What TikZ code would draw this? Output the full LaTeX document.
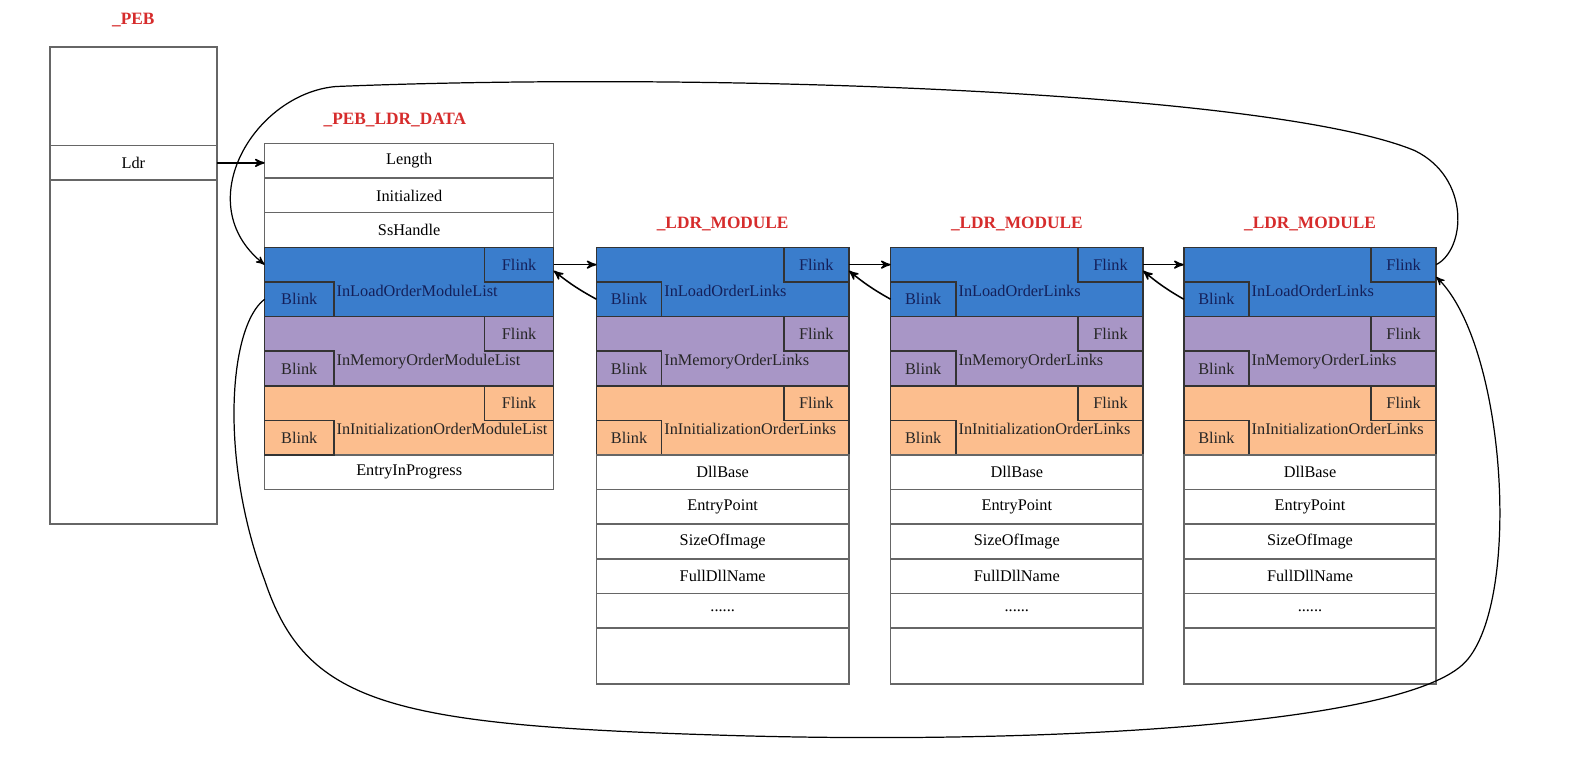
\documentclass[tikz,border=0pt]{standalone}
\usepackage{fontspec}
\setmainfont{Liberation Serif}
\usepackage{tikz}
\usetikzlibrary{arrows,positioning}
\definecolor{loadblue}{RGB}{58,125,204}
\definecolor{memviolet}{RGB}{168,150,198}
\definecolor{initorange}{RGB}{252,190,142}
\definecolor{titlered}{RGB}{214,44,44}
\definecolor{navytext}{RGB}{20,32,90}
\tikzset{
  field/.style = {draw=black!60, fill=white, inner sep=0pt, outer sep=0pt,
    minimum height=17pt, font=\fontsize{8}{9}\selectfont},
  band/.style = {draw=black!80, inner sep=0pt, outer sep=0pt,
    minimum height=34pt},
  link/.style = {draw=black!80, inner sep=0pt, outer sep=0pt,
    minimum height=17pt, font=\fontsize{8}{9}\selectfont},
  listname/.style = {anchor=north west, inner sep=1pt,
    font=\fontsize{8}{9}\selectfont},
  title/.style = {text=titlered, font=\bfseries\fontsize{8.5}{10}\selectfont}
}

\begin{document}
\begin{tikzpicture}[x=0.5pt,y=-0.5pt,>=stealth',line width=0.75pt]
  \useasboundingbox (0,0) rectangle (1568,748.7);
  % _PEB
  \node[title] (peb-title) at (131,20) {\_PEB};
  \node[field, anchor=north west, minimum width=82pt, minimum height=48.5pt] (peb-top) at (49,46) {};
  \node[field, below=0pt of peb-top, minimum width=82pt] (ldr) {Ldr};
  \node[field, below=0pt of ldr, minimum width=82pt, minimum height=169pt] (peb-rest) {};
  % _PEB_LDR_DATA
  \node[title] (data-title) at (388,118) {\_PEB\_LDR\_DATA};
  \node[field, anchor=north west, minimum width=142pt] (len) at (260,141) {Length};
  \node[field, below=0pt of len, minimum width=142pt] (init) {Initialized};
  \node[field, below=0pt of init, minimum width=142pt] (ss) {SsHandle};
  \node[band, fill=loadblue, below=0pt of ss, minimum width=142pt] (d-load) {};
  \node[band, fill=memviolet, below=0pt of d-load, minimum width=142pt] (d-mem) {};
  \node[band, fill=initorange, below=0pt of d-mem, minimum width=142pt] (d-init) {};
  \node[field, below=0pt of d-init, minimum width=142pt] (entry) {EntryInProgress};
  \foreach \b/\t/\c in {load/InLoadOrderModuleList/navytext,
                        mem/InMemoryOrderModuleList/black!85,
                        init/InInitializationOrderModuleList/black!85} {
    \node[link, text=\c, minimum width=34pt, anchor=north east] (d-\b-f) at (d-\b.north east) {Flink};
    \node[link, text=\c, minimum width=34pt, anchor=south west] (d-\b-b) at (d-\b.south west) {Blink};
    \node[listname, text=\c] (d-\b-n) at (d-\b-b.north east) {\t};
  }
  % _LDR_MODULE x3
  \foreach \i/\x in {1/586, 2/875, 3/1163} {
    \node[title] (m\i-title) at (\x+124,220) {\_LDR\_MODULE};
    \node[band, fill=loadblue, anchor=north west, minimum width=124pt] (m\i-load) at (\x,243) {};
    \node[band, fill=memviolet, below=0pt of m\i-load, minimum width=124pt] (m\i-mem) {};
    \node[band, fill=initorange, below=0pt of m\i-mem, minimum width=124pt] (m\i-init) {};
    \foreach \b/\t/\c in {load/InLoadOrderLinks/navytext,
                          mem/InMemoryOrderLinks/black!85,
                          init/InInitializationOrderLinks/black!85} {
      \node[link, text=\c, minimum width=32pt, anchor=north east] (m\i-\b-f) at (m\i-\b.north east) {Flink};
      \node[link, text=\c, minimum width=32pt, anchor=south west] (m\i-\b-b) at (m\i-\b.south west) {Blink};
      \node[listname, text=\c] (m\i-\b-n) at (m\i-\b-b.north east) {\t};
    }
    \node[field, below=0pt of m\i-init, minimum width=124pt] (m\i-base) {DllBase};
    \node[field, below=0pt of m\i-base, minimum width=124pt] (m\i-ep) {EntryPoint};
    \node[field, below=0pt of m\i-ep, minimum width=124pt] (m\i-size) {SizeOfImage};
    \node[field, below=0pt of m\i-size, minimum width=124pt] (m\i-name) {FullDllName};
    \node[field, below=0pt of m\i-name, minimum width=124pt] (m\i-more) {......};
    \node[field, below=0pt of m\i-more, minimum width=124pt, minimum height=27.5pt] (m\i-rest) {};
  }
  % Ldr pointer
  \draw[->] (ldr.east) -- (ldr.east -| len.west);
  % Flink / Blink between neighbours
  \foreach \a/\b in {d/m1, m1/m2, m2/m3} {
    \draw[->] (\a-load-f.east) -- (\a-load-f.east -| \b-load.west);
    \draw[->] (\b-load-b.west) to[bend left=5] ([yshift=-3pt]\a-load-f.east);
  }
  % list closes round
  \draw[->, line width=0.6pt] (m3-load-f.east) .. controls (1440,245) and (1445,175) .. (1390,148)
    .. controls (1250,90) and (700,70) .. (330,85)
    .. controls (250,92) and (185,200) .. (d-load.west |- d-load-f);
  \draw[->, line width=0.6pt] (d-load-b.west) .. controls (225,320) and (215,450) .. (260,570)
    .. controls (300,690) and (380,712) .. (700,722)
    .. controls (1000,732) and (1380,715) .. (1440,650)
    .. controls (1495,590) and (1480,340) .. ([yshift=-6pt]m3-load-f.east);
\end{tikzpicture}
\end{document}
